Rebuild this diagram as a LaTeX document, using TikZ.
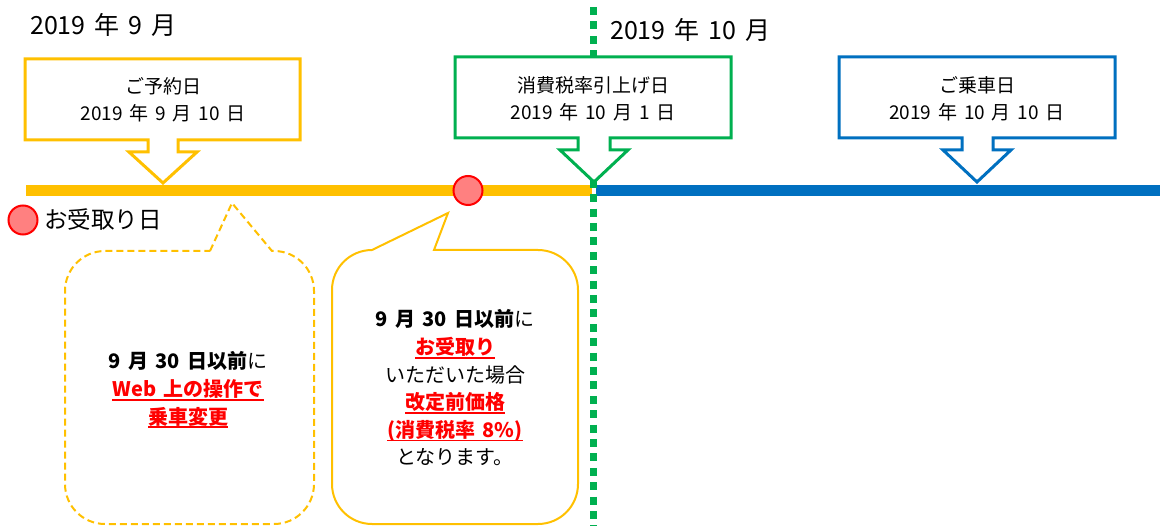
\documentclass[tikz,border=0pt]{standalone}
\usepackage{fontspec}
\setmainfont{Noto Sans CJK JP}[WordSpace=1.6]
\definecolor{cyel}{HTML}{FFC000}
\definecolor{cgrn}{HTML}{00B050}
\definecolor{cblu}{HTML}{0070C0}
\definecolor{cred}{HTML}{FF0000}
\definecolor{cpink}{HTML}{FF8080}
\newcommand\ulr[1]{\setbox0\hbox{#1}\rlap{\rule[-4pt]{\wd0}{1.8pt}}\box0}
\newcommand\rb[1]{{\bfseries\color{cred}\ulr{#1}}}
\tikzset{
  callout/.style={line width=3pt, fill=white, line join=miter},
  calltext/.style={align=center, font=\fontsize{19pt}{27pt}\selectfont, inner sep=0pt},
  title/.style={anchor=west, font=\fontsize{25pt}{28pt}\selectfont, inner sep=0pt},
  bubtext/.style={align=center, font=\fontsize{20pt}{27.6pt}\selectfont, inner sep=0pt},
  marker/.style={circle, draw=cred, fill=cpink, line width=2pt, minimum size=29pt, inner sep=0pt},
}
\begin{document}
\begin{tikzpicture}[x=1pt,y=1pt]
\useasboundingbox (0,0) rectangle (1160,-526);
% timeline
\draw[cyel, line width=11pt] (26,-190.5) -- (592,-190.5);
\draw[cblu, line width=11pt] (596,-190.5) -- (1160,-190.5);
% dotted vertical
\draw[cgrn, line width=7pt, dash pattern=on 8pt off 6.4pt] (593.5,-7) -- (593.5,-526);
% titles
\node[title] (t9) at (30,-25) {2019 年 9 月};
\node[title] (t10) at (610,-30) {2019 年 10 月};
% yellow callout
\draw[callout, draw=cyel] (25,-59) -- (300,-59) -- (300,-140) -- (178,-140) -- (178,-152) -- (197,-152)
  -- (163,-183) -- (129,-152) -- (148,-152) -- (148,-140) -- (25,-140) -- cycle;
\node[calltext] (c1) at (163,-99.5) {ご予約日\\2019 年 9 月 10 日};
% green callout
\draw[callout, draw=cgrn] (455,-57) -- (731,-57) -- (731,-138) -- (610,-138) -- (610,-150) -- (628,-150)
  -- (594,-182) -- (560,-150) -- (578,-150) -- (578,-138) -- (455,-138) -- cycle;
\node[calltext] (c2) at (593,-98.5) {消費税率引上げ日\\2019 年 10 月 1 日};
% blue callout
\draw[callout, draw=cblu] (839,-57) -- (1115,-57) -- (1115,-138) -- (993,-138) -- (993,-150) -- (1011,-150)
  -- (977,-182) -- (943,-150) -- (962,-150) -- (962,-138) -- (839,-138) -- cycle;
\node[calltext] (c3) at (977,-98.5) {ご乗車日\\2019 年 10 月 10 日};
% receipt marker
\node[marker] (m1) at (468,-190.5) {};
\node[marker] (m2) at (23,-220) {};
\node[anchor=west, font=\fontsize{23.5pt}{26pt}\selectfont, inner sep=0pt] (lg) at (44,-220) {お受取り日};
% dashed bubble
\draw[draw=cyel, line width=2pt, dash pattern=on 7pt off 4pt, fill=white, line join=miter]
  (210,-251) -- (232,-203) -- (272,-251) -- (274,-251) arc[start angle=90,end angle=0,radius=40]
  -- (314,-484) arc[start angle=0,end angle=-90,radius=40]
  -- (105,-524) arc[start angle=270,end angle=180,radius=40]
  -- (65,-291) arc[start angle=180,end angle=90,radius=40] -- cycle;
\node[bubtext] (b1) at (188,-390) {\textbf{9 月 30 日以前}に\\\rb{Web 上の操作で}\\\rb{乗車変更}};
% solid bubble
\draw[draw=cyel, line width=2pt, fill=white, line join=miter]
  (372,-250) -- (448,-213) -- (434,-250) -- (538,-250) arc[start angle=90,end angle=0,radius=40]
  -- (578,-484) arc[start angle=0,end angle=-90,radius=40]
  -- (372,-524) arc[start angle=270,end angle=180,radius=40]
  -- (332,-290) arc[start angle=180,end angle=90,radius=40] -- cycle;
\node[bubtext] (b2) at (455,-388) {\textbf{9 月 30 日以前}に\\\rb{お受取り}\\いただいた場合\\\rb{改定前価格}\\\rb{(消費税率 8\%)}\\となります。};
\end{tikzpicture}
\end{document}
